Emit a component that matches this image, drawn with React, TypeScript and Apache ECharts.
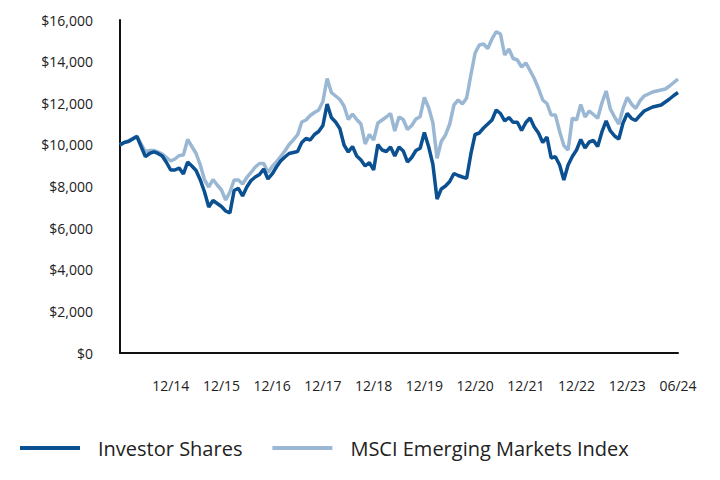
import React, { useEffect, useRef } from "react";
import * as echarts from "echarts";

const tickLabels = ["12/14", "12/15", "12/16", "12/17", "12/18", "12/19", "12/20", "12/21", "12/22", "12/23", "06/24"];
const pointsPerTick = 12;

const investorShares = [
  10000, 10115, 10160, 10283, 10400, 9922, 9432, 9586, 9668, 9586,
  9466, 9153, 8793, 8793, 8889, 8601, 9178, 8985, 8769, 8313,
  7736, 7015, 7328, 7183, 7039, 6823, 6727, 7808, 7914, 7544,
  7976, 8289, 8457, 8577, 8841, 8361, 8601, 8937, 9226, 9418,
  9586, 9634, 9682, 10115, 10307, 10235, 10499, 10643, 10931, 11964,
  11316, 11100, 10787, 9994, 9658, 9922, 9466, 9274, 8985, 9153,
  8793, 10018, 9754, 9682, 9898, 9466, 9898, 9706, 9178, 9394,
  9730, 9836, 10595, 9922, 9081, 7400, 7880, 8024, 8241, 8625,
  8529, 8457, 8394, 9562, 10499, 10571, 10811, 11003, 11196, 11676,
  11508, 11148, 11316, 11085, 11085, 10691, 11076, 11292, 10859, 10571,
  10115, 10379, 9370, 9432, 9033, 8313, 9033, 9442, 9754, 10259,
  9850, 10139, 10211, 9922, 10619, 11148, 10667, 10427, 10283, 11052,
  11508, 11268, 11172, 11412, 11628, 11724, 11820, 11868, 11916, 12061,
  12205, 12373, 12517,
];

const msciEM = [
  10000, 10115, 10211, 10307, 10427, 10042, 9682, 9730, 9730, 9658,
  9562, 9394, 9226, 9322, 9490, 9514, 10259, 9922, 9586, 9033,
  8313, 7976, 8337, 8072, 7832, 7352, 7736, 8313, 8313, 8120,
  8433, 8673, 8937, 9105, 9105, 8673, 8961, 9178, 9442, 9706,
  10018, 10235, 10475, 11100, 11196, 11412, 11556, 11676, 12085, 13190,
  12517, 12349, 12181, 11868, 11220, 11484, 11220, 11003, 10042, 10499,
  10235, 11052, 11196, 11340, 11508, 10667, 11340, 11220, 10739, 10931,
  11244, 11354, 12277, 11796, 11076, 9355, 10163, 10475, 11003, 11916,
  12157, 11964, 12253, 13358, 14415, 14799, 14847, 14631, 15088, 15439,
  15328, 14319, 14607, 14151, 14079, 13742, 13935, 13574, 13190, 12709,
  12157, 11988, 11436, 11436, 10643, 9970, 9754, 11292, 11196, 11940,
  11340, 11628, 11460, 11278, 12013, 12589, 11724, 11340, 11003, 11748,
  12277, 11964, 11748, 12109, 12349, 12445, 12541, 12589, 12637, 12685,
  12829, 12998, 13166,
];

const categories = investorShares.map((_, i) =>
  i > 0 && i % pointsPerTick === 0 ? tickLabels[i / pointsPerTick - 1] : ""
);

const FONT = "'Open Sans', 'Noto Sans', sans-serif";

export default function App() {
  const ref = useRef<HTMLDivElement>(null);
  useEffect(() => {
    document.body.style.margin = "0";
    if (!ref.current) return;
    const chart = echarts.init(ref.current, null, { renderer: "svg" });
    chart.setOption({
      animation: false,
      backgroundColor: "#ffffff",
      grid: { left: 120, right: 42, top: 20, bottom: 127 },
      legend: {
        left: 15,
        top: 433,
        itemWidth: 60,
        itemHeight: 4,
        itemGap: 30,
        icon: "rect",
        selectedMode: false,
        textStyle: { fontFamily: FONT, fontSize: 20, color: "#222", padding: [0, 0, 0, 13] },
        data: ["Investor Shares", "MSCI Emerging Markets Index"],
      },
      xAxis: {
        type: "category",
        data: categories,
        boundaryGap: false,
        axisLine: { lineStyle: { color: "#111", width: 2 } },
        axisTick: { show: false },
        axisLabel: {
          interval: 0,
          margin: 25,
          fontFamily: FONT,
          fontSize: 14,
          color: "#222",
        },
        splitLine: { show: false },
      },
      yAxis: {
        type: "value",
        min: 0,
        max: 16000,
        interval: 2000,
        axisLine: { show: true, lineStyle: { color: "#111", width: 2 } },
        axisTick: { show: false },
        splitLine: { show: false },
        axisLabel: {
          margin: 27,
          fontFamily: FONT,
          fontSize: 14,
          color: "#222",
          formatter: (v: number) => "$" + v.toLocaleString("en-US"),
        },
      },
      series: [
        {
          name: "MSCI Emerging Markets Index",
          type: "line",
          data: msciEM,
          showSymbol: false,
          symbol: "none",
          lineStyle: { color: "#9ab7d4", width: 3.5 },
          itemStyle: { color: "#9ab7d4" },
          z: 2,
        },
        {
          name: "Investor Shares",
          type: "line",
          data: investorShares,
          showSymbol: false,
          symbol: "none",
          lineStyle: { color: "#0b5090", width: 3.5 },
          itemStyle: { color: "#0b5090" },
          z: 3,
        },
      ],
    });
    return () => chart.dispose();
  }, []);
  return <div ref={ref} style={{ width: 720, height: 480 }} />;
}
